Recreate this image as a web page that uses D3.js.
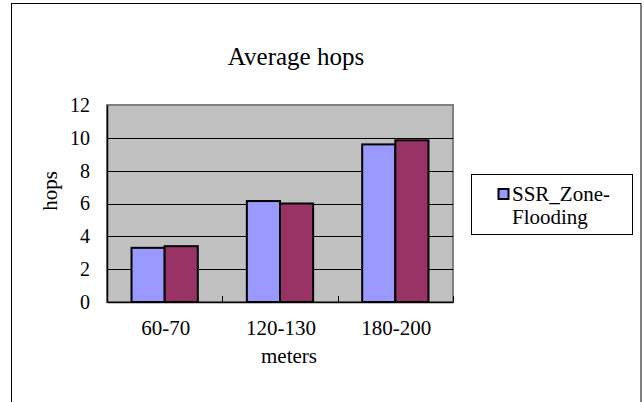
<!DOCTYPE html>
<html><head><meta charset="utf-8">
<script src="https://cdn.jsdelivr.net/npm/d3@7"></script>
<style>
html,body{margin:0;padding:0;background:#fff;}
svg{display:block;}
svg text{font-family:"Liberation Serif","Times New Roman",serif !important;fill:#000;}
</style></head>
<body>
<svg id="c" width="644" height="402"></svg>
<script>
const categories = ["60-70", "120-130", "180-200"];
const seriesNames = ["SSR_Zone-Flooding", "Series 2"];
const seriesA = [3.3, 6.15, 9.6];
const seriesB = [3.4, 6.0, 9.85];
const yTicks = [0, 2, 4, 6, 8, 10, 12];
const legendLines = ["SSR_Zone-", "Flooding"];
const colors = ["#9999FF", "#993366"];

const svg = d3.select("#c");
const plot = {l: 107, r: 453, t: 105, b: 302};

// outer chart frame
svg.append("rect").attr("x", 11.5).attr("y", 3.5).attr("width", 629.5).attr("height", 420)
  .attr("fill", "#fff").attr("stroke", "#000").attr("stroke-width", 1);

const x = d3.scaleBand().domain(categories).range([plot.l, plot.r]).paddingInner(0).paddingOuter(0);
const xs = d3.scaleBand().domain(seriesNames).range([0, x.bandwidth()]).paddingInner(0).paddingOuter(0.74);
const y = d3.scaleLinear().domain([0, 12]).range([plot.b, plot.t]);

// plot area
svg.append("rect").attr("x", plot.l).attr("y", plot.t).attr("width", plot.r - plot.l).attr("height", plot.b - plot.t)
  .attr("fill", "#C0C0C0").attr("stroke", "#808080").attr("stroke-width", 2);

// gridlines
svg.append("g").selectAll("line").data(yTicks.filter(d => d > 0 && d < 12)).join("line")
  .attr("x1", plot.l).attr("x2", plot.r).attr("y1", d => Math.round(y(d)) + 0.5).attr("y2", d => Math.round(y(d)) + 0.5)
  .attr("stroke", "#000").attr("stroke-width", 1);

// bars
const data = categories.map((c, i) => ({c, vals: [seriesA[i], seriesB[i]]}));
const g = svg.append("g");
data.forEach(d => {
  d.vals.forEach((v, j) => {
    g.append("rect")
      .attr("x", x(d.c) + xs(seriesNames[j]))
      .attr("y", y(v))
      .attr("width", xs.bandwidth())
      .attr("height", y(0) - y(v))
      .attr("fill", colors[j]).attr("stroke", "#000").attr("stroke-width", 2);
  });
});

// y axis
const yAxis = d3.axisLeft(y).tickValues(yTicks).tickSize(0).tickPadding(17);
const yg = svg.append("g").attr("transform", `translate(${plot.l},0)`).call(yAxis);
yg.attr("font-family", null);
yg.select(".domain").attr("stroke", "#000").attr("stroke-width", 1.5);
yg.selectAll("text").attr("font-size", 20).attr("fill", "#000");

// x axis
const xAxis = d3.axisBottom(x).tickSize(0).tickPadding(0).tickFormat(() => "");
const xg = svg.append("g").attr("transform", `translate(0,${plot.b})`).call(xAxis);
xg.select(".domain").attr("stroke", "#000").attr("stroke-width", 1.5);
// category boundary ticks (inside)
const bounds = categories.map(c => x(c)).concat([plot.r]);
svg.append("g").selectAll("line").data(bounds).join("line")
  .attr("x1", d => Math.round(d) + 0.5).attr("x2", d => Math.round(d) + 0.5)
  .attr("y1", plot.b).attr("y2", plot.b - 6).attr("stroke", "#000").attr("stroke-width", 1);
svg.append("g").selectAll("text").data(categories).join("text")
  .attr("x", d => x(d) + x.bandwidth() / 2 + 1).attr("y", 335)
  .attr("text-anchor", "middle").attr("font-size", 21).text(d => d);

// titles
svg.append("text").attr("x", 296).attr("y", 65).attr("text-anchor", "middle").attr("font-size", 25).text("Average hops");
svg.append("text").attr("x", (plot.l + plot.r) / 2 + 9).attr("y", 363).attr("text-anchor", "middle").attr("font-size", 21).text("meters");
svg.append("text").attr("transform", "translate(57,191) rotate(-90)").attr("text-anchor", "middle").attr("font-size", 21).text("hops");

// legend
const lg = svg.append("g");
lg.append("rect").attr("x", 471.5).attr("y", 174.5).attr("width", 161).attr("height", 60)
  .attr("fill", "#fff").attr("stroke", "#000").attr("stroke-width", 1);
lg.append("rect").attr("x", 498.5).attr("y", 189).attr("width", 10).attr("height", 10)
  .attr("fill", colors[0]).attr("stroke", "#000").attr("stroke-width", 2);
lg.selectAll("text.l").data(legendLines).join("text").attr("class", "l")
  .attr("x", 512).attr("y", (d, i) => 201 + i * 23).attr("font-size", 21).text(d => d);
</script>
</body></html>
